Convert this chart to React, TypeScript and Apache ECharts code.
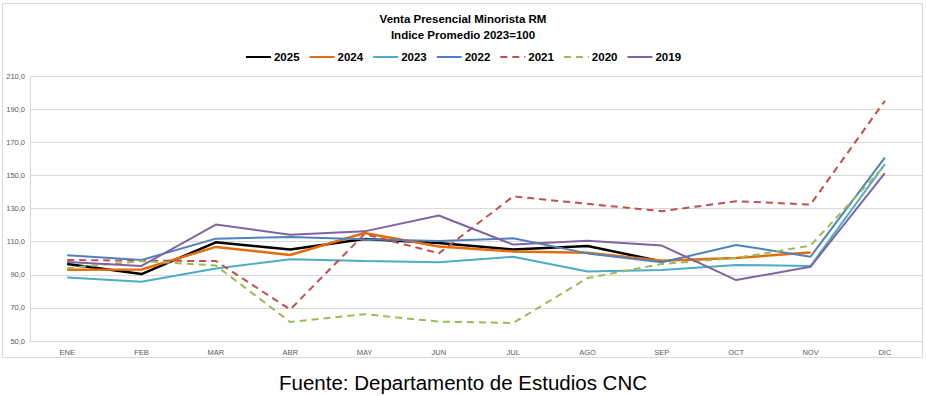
import React, { useEffect, useRef } from "react";
import * as echarts from "echarts";

const months = ["ENE", "FEB", "MAR", "ABR", "MAY", "JUN", "JUL", "AGO", "SEP", "OCT", "NOV", "DIC"];
const yTicks = [50, 70, 90, 110, 130, 150, 170, 190, 210];

const s2025 = [96.5, 90.4, 109.6, 105.2, 111.6, 109.2, 105.3, 107.4, 98.0, null, null, null];
const s2024 = [93.0, 93.2, 106.8, 101.9, 115.2, 107.0, 104.1, 103.3, 98.5, 100.1, 103.5, null];
const s2023 = [88.4, 85.8, 93.8, 99.3, 98.3, 97.5, 100.9, 92.0, 92.8, 95.9, 95.3, 156.7];
const s2022 = [101.7, 98.9, 111.8, 112.8, 111.4, 110.4, 112.0, 102.9, 97.5, 108.0, 100.9, 160.7];
const s2021 = [98.9, 98.5, 98.3, 69.0, 114.6, 102.9, 137.3, 132.8, 128.4, 134.4, 132.4, 195.0];
const s2020 = [94.0, 98.3, 95.6, 61.5, 66.2, 61.7, 60.9, 88.0, 96.5, 100.1, 107.6, 156.0];
const s2019 = [97.7, 95.3, 120.3, 114.2, 116.2, 125.8, 108.2, 110.6, 107.6, 86.8, 94.8, 151.4];

const seriesDefs = [
  { name: "2025", data: s2025, color: "#000000", dashed: false, width: 2.5 },
  { name: "2024", data: s2024, color: "#E46C0A", dashed: false, width: 2.5 },
  { name: "2023", data: s2023, color: "#4BACC6", dashed: false, width: 2 },
  { name: "2022", data: s2022, color: "#4F81BD", dashed: false, width: 2 },
  { name: "2021", data: s2021, color: "#C0504D", dashed: true, width: 2 },
  { name: "2020", data: s2020, color: "#9BBB59", dashed: true, width: 2 },
  { name: "2019", data: s2019, color: "#8064A2", dashed: false, width: 2 },
];

const narrow = "'Liberation Sans Narrow', 'Arial Narrow', 'Liberation Sans', sans-serif";
const sans = "'Liberation Sans', Arial, sans-serif";

export default function App() {
  const ref = useRef<HTMLDivElement>(null);
  useEffect(() => {
    if (!ref.current) return;
    const chart = echarts.init(ref.current, null, { renderer: "svg" });
    chart.setOption({
      animation: false,
      backgroundColor: "#ffffff",
      title: [
        {
          text: "Venta Presencial Minorista RM",
          left: "center",
          top: 8,
          textStyle: { fontFamily: narrow, fontSize: 11.5, fontWeight: "bold", color: "#000" },
        },
        {
          text: "Indice Promedio 2023=100",
          left: "center",
          top: 24,
          textStyle: { fontFamily: narrow, fontSize: 11.5, fontWeight: "bold", color: "#000" },
        },
        {
          text: "Fuente: Departamento de Estudios CNC",
          left: "center",
          top: 367,
          textStyle: { fontFamily: sans, fontSize: 20.5, fontWeight: "normal", color: "#000" },
        },
      ],
      legend: {
        top: 46,
        left: "center",
        itemWidth: 25,
        itemHeight: 12,
        itemGap: 9,
        itemStyle: { opacity: 0, borderWidth: 0 },
        textStyle: { fontFamily: narrow, fontSize: 11.5, fontWeight: "bold", color: "#000", padding: [0, 0, 0, -2] },
        data: seriesDefs.map((s) => s.name),
      },
      graphic: [
        {
          type: "rect",
          shape: { x: 2.5, y: 3.5, width: 920, height: 354 },
          style: { fill: "none", stroke: "#d9d9d9", lineWidth: 1 },
          silent: true,
        },
      ],
      grid: { left: 30, right: 4, top: 76, bottom: 55, containLabel: false },
      xAxis: {
        type: "category",
        data: months,
        boundaryGap: true,
        axisLine: { show: true, lineStyle: { color: "#d9d9d9" } },
        axisTick: { show: false },
        axisLabel: { fontFamily: sans, fontSize: 7.5, color: "#595959", margin: 7 },
      },
      yAxis: {
        type: "value",
        min: 50,
        max: 210,
        axisLine: { show: true, lineStyle: { color: "#d9d9d9" } },
        axisTick: { show: false, customValues: yTicks },
        splitLine: { show: true, lineStyle: { color: "#d9d9d9", width: 1 } },
        axisLabel: {
          customValues: yTicks,
          fontFamily: sans,
          fontSize: 7.5,
          color: "#595959",
          margin: 5,
          formatter: (v: number) => v.toFixed(1).replace(".", ","),
        },
      },
      series: seriesDefs.map((s) => ({
        name: s.name,
        type: "line",
        data: s.data,
        symbol: "none",
        color: s.color,
        lineStyle: { color: s.color, width: s.width, type: s.dashed ? [7, 5] : "solid" },
        connectNulls: false,
      })),
    });
    return () => chart.dispose();
  }, []);
  return (
    <div style={{ position: "fixed", left: 0, top: 0, width: 926, height: 396, background: "#fff" }}>
      <div ref={ref} style={{ width: 926, height: 396 }} />
    </div>
  );
}
